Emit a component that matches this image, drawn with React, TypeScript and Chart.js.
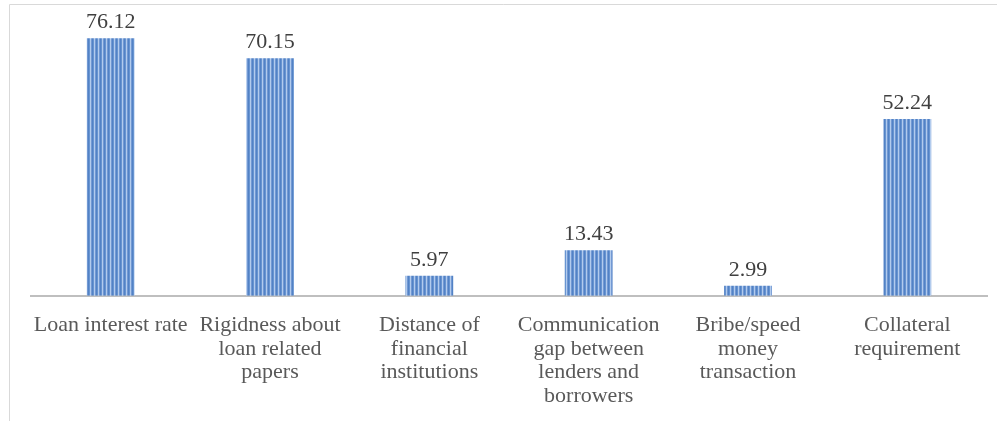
import React, { useEffect, useRef } from "react";
import { Chart, registerables } from "chart.js";

Chart.register(...registerables);

const categories: (string | string[])[] = [
  "Loan interest rate",
  ["Rigidness about", "loan related", "papers"],
  ["Distance of", "financial", "institutions"],
  ["Communication", "gap between", "lenders and", "borrowers"],
  ["Bribe/speed", "money", "transaction"],
  ["Collateral", "requirement"],
];
const values: number[] = [76.12, 70.15, 5.97, 13.43, 2.99, 52.24];
const valueLabels: string[] = ["76.12", "70.15", "5.97", "13.43", "2.99", "52.24"];

const FONT = "'Liberation Serif', 'Times New Roman', serif";

function makePattern(): CanvasPattern | string {
  const c = document.createElement("canvas");
  c.width = 4;
  c.height = 1;
  const ctx = c.getContext("2d");
  if (!ctx) return "#5b8bd0";
  const cols = ["#5282c5", "#6894d1", "#b2cbed", "#7299d4"];
  cols.forEach((col, i) => {
    ctx.fillStyle = col;
    ctx.fillRect(i, 0, 1, 1);
  });
  const p = ctx.createPattern(c, "repeat");
  return p || "#5b8bd0";
}

const framePlugin = {
  id: "frame",
  beforeDraw(chart: any) {
    const ctx = chart.ctx;
    ctx.save();
    ctx.strokeStyle = "#d9d9d9";
    ctx.lineWidth = 1;
    ctx.beginPath();
    ctx.moveTo(9.5, chart.height);
    ctx.lineTo(9.5, 4.5);
    ctx.lineTo(chart.width, 4.5);
    ctx.stroke();
    ctx.restore();
  },
};

const valueLabelPlugin = {
  id: "valueLabels",
  afterDatasetsDraw(chart: any) {
    const ctx = chart.ctx;
    const meta = chart.getDatasetMeta(0);
    ctx.save();
    ctx.font = `22px ${FONT}`;
    ctx.fillStyle = "#404040";
    ctx.textAlign = "center";
    ctx.textBaseline = "alphabetic";
    meta.data.forEach((bar: any, i: number) => {
      ctx.fillText(valueLabels[i], bar.x, bar.y - 10);
    });
    ctx.restore();
  },
};

export default function App() {
  const ref = useRef<HTMLCanvasElement>(null);
  useEffect(() => {
    document.body.style.margin = "0";
    if (!ref.current) return;
    const chart = new Chart(ref.current, {
      type: "bar",
      data: {
        labels: categories,
        datasets: [
          {
            data: values,
            backgroundColor: makePattern() as any,
            borderWidth: 0,
            barPercentage: 0.3,
            categoryPercentage: 1,
          },
        ],
      },
      options: {
        responsive: false,
        animation: false,
        layout: { padding: { left: 31, right: 10, top: 25, bottom: -5 } },
        plugins: {
          legend: { display: false },
          tooltip: { enabled: false },
        },
        scales: {
          x: {
            grid: { display: false, drawTicks: false },
            border: { display: true, color: "#bfbfbf", width: 2 },
            ticks: {
              maxRotation: 0,
              autoSkip: false,
              padding: 18,
              color: "#595959",
              font: { family: FONT, size: 22, lineHeight: 1.07 },
            },
          },
          y: {
            display: false,
            min: 0,
            max: 80,
          },
        },
      },
      plugins: [framePlugin, valueLabelPlugin],
    });
    return () => chart.destroy();
  }, []);
  return (
    <div style={{ width: 997, height: 421 }}>
      <canvas ref={ref} width={997} height={421} style={{ display: "block" }} />
    </div>
  );
}
